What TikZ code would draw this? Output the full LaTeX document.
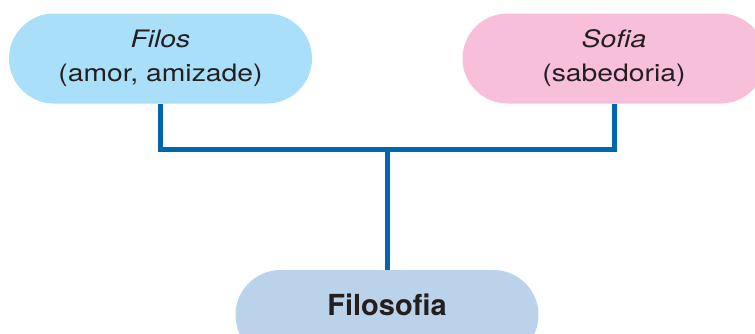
\documentclass[tikz,border=0pt]{standalone}
\usepackage{fontspec}
\setmainfont{TeX Gyre Heros}
\newfontfamily\widefont{TeX Gyre Heros}[FakeStretch=1.18]
\definecolor{filosblue}{HTML}{A9DFF8}
\definecolor{sofiapink}{HTML}{F7BFD9}
\definecolor{filosofiablue}{HTML}{BBD3EA}
\definecolor{linkblue}{HTML}{0066AD}
\definecolor{inkgray}{HTML}{231F20}
\begin{document}
\begin{tikzpicture}[x=1pt, y=-1pt,
		pill/.style={rectangle, rounded corners=45pt, minimum width=303pt, minimum height=90pt, inner sep=0pt, text=inkgray, align=center},
		greek/.style={pill, font=\widefont\fontsize{24}{34}\selectfont},
		link/.style={draw=linkblue, line width=5pt}]
			\clip (0,0) rectangle (755,333);
			\node[greek, fill=filosblue] (filos) at (160.5,58.5) {\textit{Filos}\\(amor, amizade)};
			\node[greek, fill=sofiapink] (sofia) at (614,58.5) {\textit{Sofia}\\(sabedoria)};
			\node[pill, fill=filosofiablue, text height=10pt, text depth=10pt, font=\fontsize{29}{34}\selectfont\bfseries] (filosofia) at (387,315) {Filosofia};
			\coordinate (junction) at (387,149.5);
			\draw[link] (filos.south) |- (junction) -| (sofia.south);
			\draw[link] (junction) -- (filosofia.north);
		\end{tikzpicture}
\end{document}
